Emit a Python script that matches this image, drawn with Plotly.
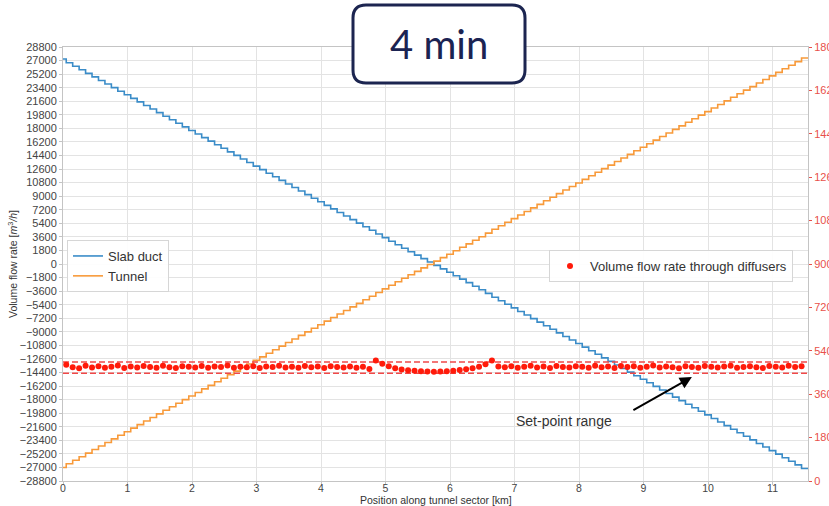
import numpy as np
import plotly.graph_objects as go

# ---- data ----
x_ticks = list(range(0, 12))
left_ticks = list(range(-28800, 28801, 1800))
right_ticks = list(range(0, 1801, 180))

slab_start = 27200
tunnel_start = -27000
x_end = 11.55

# volume flow rate through each diffuser (m3/h), one every 100 m
diffusers = [
    482, 472, 468, 478, 471, 476, 470, 474, 479, 469,
    475, 471, 477, 473, 470, 478, 472, 469, 476, 474,
    471, 477, 470, 475, 473, 479, 470, 474, 472, 476,
    469, 475, 473, 478, 471, 474, 470, 477, 472, 475,
    469, 476, 473, 471, 475, 470, 474, 465,
    500, 486, 476, 468, 462, 459, 457, 455, 454, 453,
    454, 455, 457, 460, 463, 468, 474, 484, 500, 475,
    472, 476, 470, 474, 478, 471, 475, 469, 477, 473,
    471, 476, 474, 470, 478, 472, 475, 469, 477, 473,
    476, 470, 474, 479, 471, 475, 472, 468, 476, 473,
    470, 477, 474, 471, 475, 478, 470, 473, 476, 472,
    469, 477, 474, 471, 478, 473, 476,
]
diffuser_x = [round(0.05 + 0.1 * i, 2) for i in range(len(diffusers))]
setpoint_range = [447, 494]

# duct flows: slab duct loses, tunnel gains each diffuser's flow
cum = np.cumsum(diffusers)
stair_x = [0.0] + diffuser_x + [x_end]
slab = [slab_start] + list(slab_start - cum) + [slab_start - cum[-1]]
tunnel = [tunnel_start] + list(tunnel_start + cum) + [tunnel_start + cum[-1]]

BLUE = "#3a8cc8"
ORANGE = "#f89a3a"
RED = "#ff1a0a"
RED_TXT = "#e8504a"
FONT = "Liberation Sans, Arial, sans-serif"

def fmt(v):
    return str(v).replace("-", "\u2212")

fig = go.Figure()
fig.add_trace(go.Scatter(x=stair_x, y=slab, mode="lines", name="Slab duct",
                         line=dict(color=BLUE, width=1.6, shape="hv"), legend="legend"))
fig.add_trace(go.Scatter(x=stair_x, y=tunnel, mode="lines", name="Tunnel",
                         line=dict(color=ORANGE, width=1.6, shape="hv"), legend="legend"))
for v in setpoint_range:
    fig.add_trace(go.Scatter(x=[0, x_end], y=[v, v], mode="lines", yaxis="y2",
                             line=dict(color="#f04848", width=1.5, dash="6px,3px"),
                             showlegend=False, hoverinfo="skip"))
fig.add_trace(go.Scatter(x=diffuser_x, y=diffusers, mode="markers", yaxis="y2",
                         name="Volume flow rate through diffusers",
                         marker=dict(color=RED, size=6), legend="legend2"))

# plot-area geometry in px: left 63, right 808, top 47, bottom 481
W, H = 829, 506
L, R, T, B = 63, 21, 47, 25
pw, ph = W - L - R, H - T - B

def px(x):
    return (x - L) / pw

def py(y):
    return (H - B - y) / ph

# rounded title box
x0, x1, y0, y1 = px(353), px(525), py(83), py(5)
rx, ry = 13 / pw, 13 / ph
path = (f"M {x0+rx},{y1} L {x1-rx},{y1} Q {x1},{y1} {x1},{y1-ry} "
        f"L {x1},{y0+ry} Q {x1},{y0} {x1-rx},{y0} L {x0+rx},{y0} "
        f"Q {x0},{y0} {x0},{y0+ry} L {x0},{y1-ry} Q {x0},{y1} {x0+rx},{y1} Z")

fig.update_layout(
    width=W, height=H,
    margin=dict(l=L, r=R, t=T, b=B),
    paper_bgcolor="white", plot_bgcolor="white",
    font=dict(family=FONT, color="#444", size=11),
    hovermode=False,
    xaxis=dict(range=[0, x_end], tickvals=x_ticks, showgrid=True, gridcolor="#e3e3e3",
               showline=True, linecolor="#c4c4c4", linewidth=1, mirror=True,
               ticks="outside", ticklen=3, tickcolor="#c4c4c4", zeroline=False,
               automargin=False, ticklabelstandoff=-6,
               tickfont=dict(size=10.5, color="#444")),
    yaxis=dict(range=[-28800, 28800], tickvals=left_ticks, ticktext=[fmt(v) for v in left_ticks],
               showgrid=True, gridcolor="#e3e3e3",
               showline=True, linecolor="#c4c4c4", linewidth=1, mirror=True,
               ticks="outside", ticklen=3, tickcolor="#c4c4c4", zeroline=False,
               automargin=False, tickfont=dict(size=11, color="#444")),
    yaxis2=dict(range=[0, 1800], tickvals=right_ticks, ticktext=[fmt(v) for v in right_ticks],
                overlaying="y", side="right",
                showgrid=False, zeroline=False, showline=False, automargin=False,
                ticks="outside", ticklen=3, tickcolor=RED_TXT,
                tickfont=dict(size=11, color=RED_TXT)),
    legend=dict(x=px(67), y=py(240), xanchor="left", yanchor="top",
                bgcolor="rgba(255,255,255,0.9)", bordercolor="#d6d6d6", borderwidth=1,
                font=dict(size=13, color="#333")),
    legend2=dict(x=px(549), y=py(250), xanchor="left", yanchor="top",
                 bgcolor="rgba(255,255,255,0.9)", bordercolor="#d6d6d6", borderwidth=1,
                 font=dict(size=13, color="#333")),
    shapes=[dict(type="path", path=path, xref="paper", yref="paper", layer="above",
                 fillcolor="white", line=dict(color="#1c2550", width=3))],
    showlegend=True,
)

fig.add_annotation(text="4 min", xref="paper", yref="paper", x=px(439), y=py(44),
                   xanchor="center", yanchor="middle", showarrow=False,
                   font=dict(family="Lato, Open Sans, sans-serif", size=40, color="#1b2352"))
fig.add_annotation(text="Position along tunnel sector [km]", xref="paper", yref="paper",
                   x=0.5, y=py(500), xanchor="center", yanchor="middle",
                   showarrow=False, font=dict(size=10.5, color="#333"))
fig.add_annotation(text="Volume flow rate [<i>m</i><sup>3</sup><i>/h</i>]", xref="paper", yref="paper",
                   x=0, y=0.5, xshift=-51, textangle=-90, xanchor="center", yanchor="middle",
                   showarrow=False, font=dict(size=10.5, color="#333"))
fig.add_annotation(text="Set-point range", x=6.99, y=-20840, xanchor="left", yanchor="middle",
                   showarrow=False, font=dict(size=14, color="#333"))
fig.add_annotation(text="", x=9.75, y=-15000, ax=-60, ay=34, showarrow=True,
                   arrowhead=2, arrowsize=1.2, arrowwidth=2, arrowcolor="black")

fig.write_html("out.html", config={"displayModeBar": False},
               post_script="document.body.style.margin='0';document.body.style.overflow='hidden';")
